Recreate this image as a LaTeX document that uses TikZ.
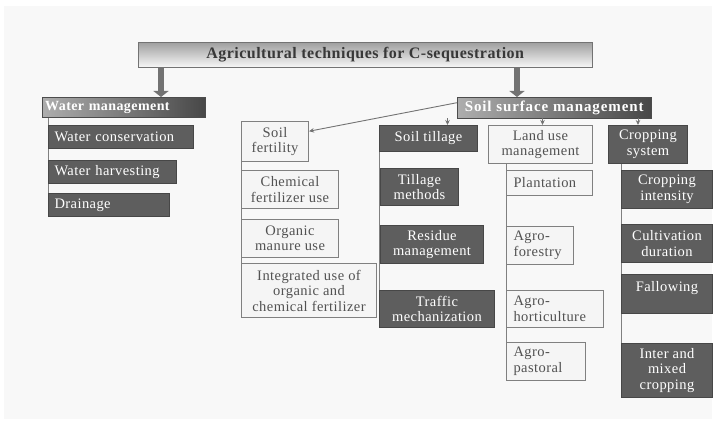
\documentclass[tikz,border=0pt]{standalone}
\usepackage{fontspec}
\setmainfont[LetterSpace=3]{Liberation Serif}
\newfontfamily\widefont[LetterSpace=6]{Liberation Serif}
\usetikzlibrary{arrows.meta,calc,backgrounds}

\definecolor{boxdark}{HTML}{5E5E5E}
\definecolor{panel}{HTML}{F8F8F8}

\begin{document}
\begin{tikzpicture}[
  x=1pt, y=-1pt,
  font=\fontsize{14.5}{15.5}\selectfont,
  box/.style    = {anchor=north west, align=center, inner sep=2pt, line width=1pt},
  dark/.style   = {box, draw=black!72, fill=boxdark, text=white},
  light/.style  = {box, draw=black!50, fill=black!4, text=black!68},
  lleft/.style  = {light, align=left, inner xsep=7pt},
  wbox/.style   = {dark, align=left, inner xsep=6pt},
  head/.style   = {anchor=north west, draw=black!70, left color=black!32,
                   right color=black!72, text=white, inner sep=2pt,
                   font=\fontsize{14}{16}\selectfont\bfseries},
  big/.style    = {-{Triangle[length=6pt,width=15pt]}, line width=6.5pt, black!55},
  ar/.style     = {-{Stealth[length=5pt,width=4.5pt]}, black!55, line width=0.9pt},
  stem/.style   = {black!50, line width=1pt},
]
\useasboundingbox (0,0) rectangle (716,425);

% ----------------------------- title ---------------------------------------
\node[anchor=north west, draw=black!55, top color=black!38, bottom color=black!3,
      minimum width=454pt, minimum height=25pt, inner sep=2pt, text=black!78,
      font=\fontsize{16}{18}\selectfont\bfseries] (title) at (138,42)
  {Agricultural techniques for C-sequestration};

% ----------------------------- water management ----------------------------
\node[head, minimum width=163pt, minimum height=20pt, text width=157pt,
      align=left] (wm) at (42,97) {Water management};
\node[wbox, minimum height=23pt, text width=133pt] (wc) at (48,125) {Water conservation};
\node[wbox, minimum height=23pt, text width=116pt] (wh) at (48,160) {Water harvesting};
\node[wbox, minimum height=23pt, text width=109pt] (dr) at (48,193) {Drainage};

% ----------------------------- soil surface management ---------------------
\node[head, minimum width=194pt, minimum height=21pt,
      font=\fontsize{15}{16}\widefont\bfseries] (ssm) at (457,97)
  {Soil surface management};

% soil fertility
\node[light, minimum width=67pt, minimum height=40pt] (sf) at (241,121) {Soil\\fertility};
\node[light, minimum width=97pt, minimum height=38pt] (cf) at (241,170) {Chemical\\fertilizer use};
\node[light, minimum width=97pt, minimum height=38pt] (om) at (241,219) {Organic\\manure use};
\node[light, minimum width=135pt, minimum height=54pt] (iu) at (241,263)
  {Integrated use of\\organic and\\chemical fertilizer};

% soil tillage
\node[dark, minimum width=98pt, minimum height=26pt] (st) at (379,125) {Soil tillage};
\node[dark, minimum width=78pt, minimum height=37pt] (tm) at (380,168) {Tillage\\methods};
\node[dark, minimum width=103pt, minimum height=38pt] (rm) at (380,225) {Residue\\management};
\node[dark, minimum width=115pt, minimum height=37pt] (tr) at (379,290) {Traffic\\mechanization};

% land use management
\node[light, minimum width=104pt, minimum height=38pt] (lu) at (488,125) {Land use\\management};
\node[lleft, minimum height=25pt, text width=72pt] (pl) at (506,170) {Plantation};
\node[lleft, minimum height=38pt, text width=53pt] (af) at (506,226) {Agro-\\forestry};
\node[lleft, minimum height=37pt, text width=83pt] (ah) at (506,290) {Agro-\\horticulture};
\node[lleft, minimum height=38pt, text width=65pt] (ap) at (506,342) {Agro-\\pastoral};

% cropping system
\node[dark, minimum width=79pt, minimum height=38pt] (cs) at (608,125) {Cropping\\system};
\node[dark, minimum width=91pt, minimum height=38pt] (ci) at (621,170) {Cropping\\intensity};
\node[dark, minimum width=91pt, minimum height=38pt] (cd) at (621,224) {Cultivation\\duration};
\node[dark, minimum width=91pt, minimum height=39pt] (fa) at (621,274) {Fallowing\\\mbox{}};
\node[dark, minimum width=91pt, minimum height=54pt] (im) at (621,343) {Inter and\\mixed\\cropping};

% ----------------------------- connectors ----------------------------------
\coordinate (wmin) at ($(wm.north west)+(119,0)$);
\coordinate (ssin) at ($(ssm.north west)+(60,0)$);
\draw[big] (title.south -| wmin) -- (wmin);
\draw[big] (title.south -| ssin) -- (ssin);

\coordinate (stin) at ($(st.north)+(19,0)$);
\coordinate (luin) at ($(lu.north)+(2,0)$);
\coordinate (csin) at ($(cs.north)+(-10,0)$);
\draw[ar] (ssm.south -| stin) -- (stin);
\draw[ar] (ssm.south -| luin) -- (luin);
\draw[ar] (ssm.south -| csin) -- (csin);
\draw[ar] ($(ssm.west)+(0,-5)$) -- ($(sf.north east)!0.25!(sf.south east)$);

\begin{scope}[on background layer]
  \fill[white] (0,0) rectangle (716,425);
  \fill[panel] (4,6) rectangle (712,419);
  \draw[stem] (wm.south -| dr.west) -- (dr.west);
  \draw[stem] (sf.south west) -- (iu.west);
  \draw[stem] (st.south -| tr.west) -- (tr.west);
  \draw[stem] (lu.south -| ap.west) -- (ap.west);
  \draw[stem] (cs.south -| im.west) -- (im.west);
\end{scope}

\end{tikzpicture}
\end{document}
